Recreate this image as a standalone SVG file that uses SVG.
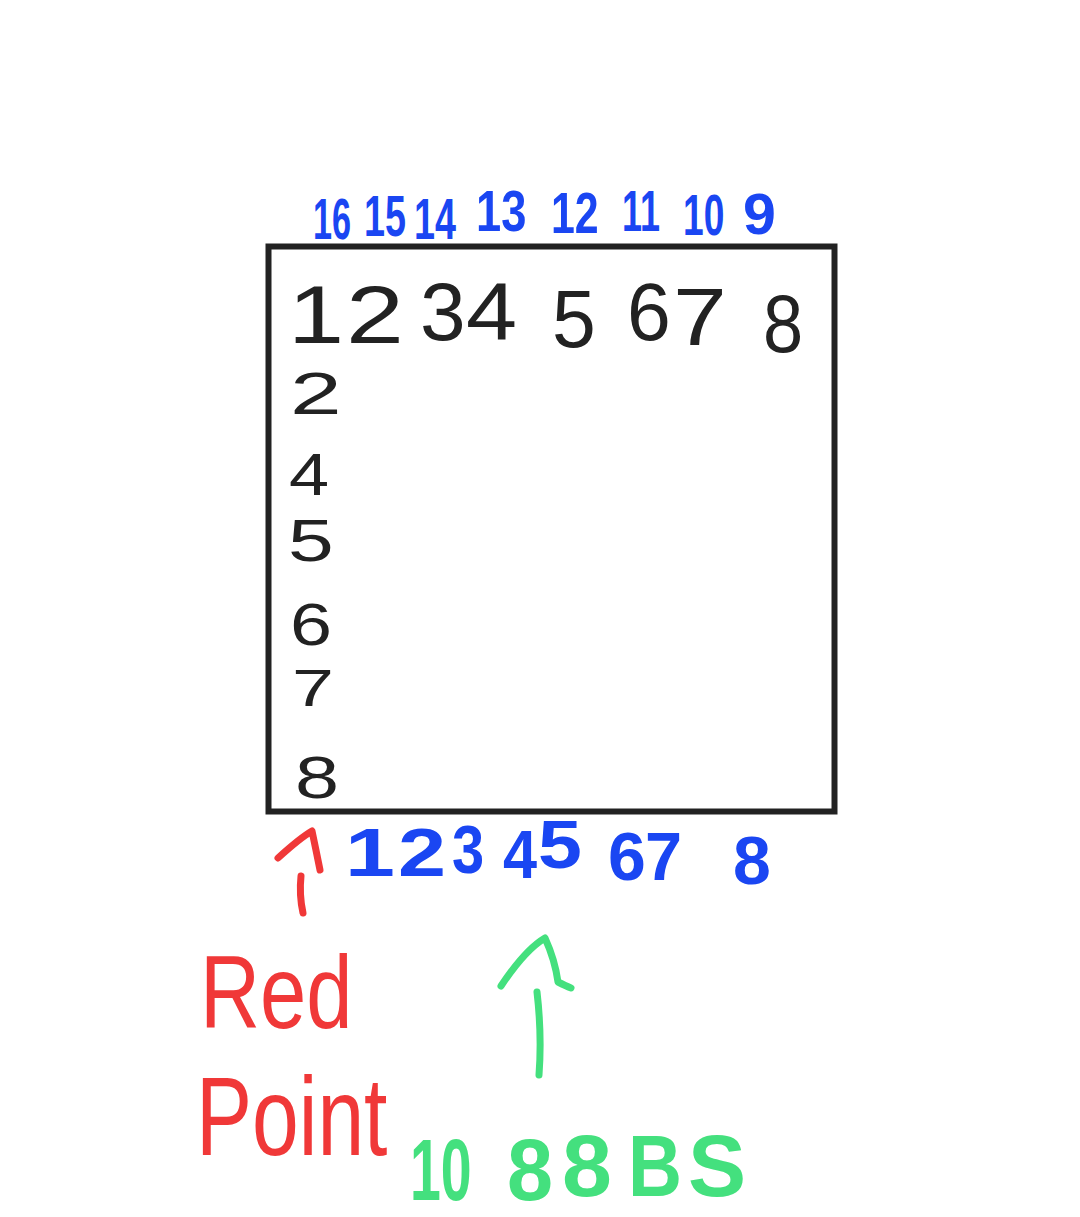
<svg xmlns="http://www.w3.org/2000/svg" width="1080" height="1217" viewBox="0 0 1080 1217">
<style>
.t{font-family:"Liberation Sans","DejaVu Sans",sans-serif}
.blk{fill:#222222}
.blue{fill:#1A46F2;font-weight:bold}
.red{fill:#F03838}
.grn{fill:#44E07E}
.arr{fill:none;stroke-width:7;stroke-linecap:round;stroke-linejoin:round}
</style>
<rect width="1080" height="1217" fill="#ffffff"/>
<g id="grid-box">
<rect x="268.5" y="246.5" width="566" height="565" fill="none" stroke="#222222" stroke-width="6"/>
</g>
<g id="top-blue-numbers" class="t blue" font-size="58">
<text transform="translate(313 239) scale(0.59 1)">16</text>
<text transform="translate(364 236) scale(0.65 1)">15</text>
<text transform="translate(414 239) scale(0.65 1)">14</text>
<text transform="translate(476 231) scale(0.78 1)">13</text>
<text transform="translate(551 233) scale(0.74 1)">12</text>
<text transform="translate(622 231) scale(0.62 1)">11</text>
<text transform="translate(683 235) scale(0.64 1)">10</text>
<text transform="translate(743 234) scale(1.02 1)">9</text>
</g>
<g id="top-black-row" class="t blk" font-size="82">
<text transform="translate(288 343) scale(1.23 1)">1</text>
<text transform="translate(346 343) scale(1.27 1)">2</text>
<text transform="translate(420 340) scale(1.0 1)">3</text>
<text transform="translate(466 340) scale(1.12 1)">4</text>
<text transform="translate(552 347) scale(0.96 1)">5</text>
<text transform="translate(627 340) scale(0.96 1)">6</text>
<text transform="translate(673 345) scale(1.18 1)">7</text>
<text transform="translate(763 352) scale(0.88 1)">8</text>
</g>
<g id="left-black-column" class="t blk" font-size="60">
<text transform="translate(290 414) scale(1.55 1)">2</text>
<text transform="translate(289 495) scale(1.2 1)">4</text>
<text transform="translate(288 561) scale(1.37 1)">5</text>
<text transform="translate(290 645) scale(1.26 1)">6</text>
<text transform="translate(292 706) scale(1.45 1)" font-size="52">7</text>
<text transform="translate(295 798) scale(1.32 1)">8</text>
</g>
<g id="bottom-blue-numbers" class="t blue" font-size="68">
<text transform="translate(345 876) scale(1.32 1)">1</text>
<text transform="translate(398 876) scale(1.27 1)">2</text>
<text transform="translate(452 873) scale(0.85 1)">3</text>
<text transform="translate(503 878) scale(0.9 1)">4</text>
<text transform="translate(538 868) scale(1.16 1)">5</text>
<text transform="translate(608 880) scale(1.0 1)">6</text>
<text transform="translate(645 880) scale(0.98 1)">7</text>
<text transform="translate(733 884) scale(1.0 1)">8</text>
</g>
<g id="red-point-label" class="t red">
<text transform="translate(200 1028) scale(0.8 1)" font-size="104">Red</text>
<text transform="translate(196 1155) scale(0.75 1)" font-size="112">Point</text>
</g>
<g id="green-label" class="t grn" font-size="88" font-weight="bold">
<text transform="translate(410 1200) scale(0.63 1)">10</text>
<text transform="translate(507 1200) scale(0.94 1)">8</text>
<text transform="translate(562 1196) scale(1.02 1)">8</text>
<text transform="translate(628 1196) scale(0.85 1)">B</text>
<text transform="translate(688 1196) scale(0.99 1)">S</text>
</g>
<g id="connectors">
<path class="arr" stroke="#F03838" d="M278 858 Q300 838 312 831 Q316 850 320 870"/>
<path class="arr" stroke="#F03838" d="M301 876 Q299 895 303 913"/>
<path class="arr" stroke="#44E07E" d="M501 986 Q525 950 545 938 Q555 960 558 982 Q566 986 571 988"/>
<path class="arr" stroke="#44E07E" stroke-width="9" d="M537 992 Q542 1035 539 1075"/>
</g>
</svg>
